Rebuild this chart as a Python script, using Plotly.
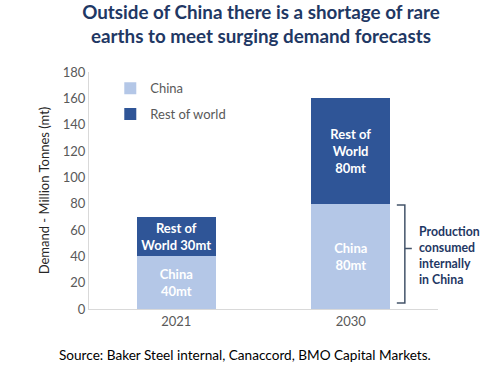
import plotly.graph_objects as go

years = ["2021", "2030"]
china = [40, 80]
rest_of_world = [30, 80]
china_labels = ["China<br>40mt", "China<br>80mt"]
row_labels = ["Rest of<br>World 30mt", "Rest of<br>World<br>80mt"]

FONT = "Lato, 'Open Sans', sans-serif"
NAVY = "#1F3864"

fig = go.Figure()
fig.add_trace(go.Bar(
    x=years, y=china, name="China", legendgroup="a",
    marker=dict(color="#B4C7E7", line=dict(color="#B4C7E7", width=0)),
    text=[f"<b>{t}</b>" for t in china_labels], textposition="inside",
    insidetextanchor="middle", textangle=0,
    textfont=dict(color="white", size=13, family=FONT),
))
fig.add_trace(go.Bar(
    x=years, y=rest_of_world, name="Rest of world", legendgroup="b",
    marker=dict(color="#2F5597", line=dict(color="#2F5597", width=0)),
    text=[f"<b>{t}</b>" for t in row_labels], textposition="inside",
    insidetextanchor="middle", textangle=0,
    textfont=dict(color="white", size=13, family=FONT),
))

fig.update_layout(
    width=486, height=368,
    barmode="stack", bargap=0.547,
    paper_bgcolor="white", plot_bgcolor="white",
    margin=dict(l=89, r=48, t=72, b=59),
    font=dict(family=FONT, size=13, color="#595959"),
    title=dict(
        text="<b>Outside of China there is a shortage of rare<br>earths to meet surging demand forecasts</b>",
        x=0.537, xanchor="center", xref="container",
        y=0.949, yanchor="top", yref="container",
        font=dict(family=FONT, size=18.8, color=NAVY),
    ),
    legend=dict(
        x=0.061, y=0.995, xanchor="left", yanchor="top",
        traceorder="grouped", tracegroupgap=6,
        bgcolor="rgba(0,0,0,0)",
        font=dict(size=13, color="#595959", family=FONT),
    ),
    uniformtext=dict(mode=False),
    xaxis=dict(
        showline=True, linecolor="#D9D9D9", linewidth=1,
        ticks="", showgrid=False,
        tickfont=dict(size=13, color="#595959"),
    ),
    yaxis=dict(
        range=[0, 180], dtick=20, showgrid=False,
        showline=True, linecolor="#D9D9D9", linewidth=1,
        ticks="", zeroline=False,
        tickfont=dict(size=13, color="#595959"),
        title=dict(text="Demand - Million Tonnes (mt)", standoff=10,
                   font=dict(size=13, color="#262626")),
    ),
)

# curly bracket marking China's internal consumption
fig.add_shape(
    type="path", xref="paper", yref="y",
    path="M 0.882 79 L 0.905 79 L 0.905 46 L 0.925 46 M 0.905 46 L 0.905 4.5 L 0.882 4.5",
    line=dict(color="#44546A", width=1.5),
)
fig.add_annotation(
    xref="paper", yref="y", x=0.94, y=41, xanchor="left", yanchor="middle",
    text="<b>Production<br>consumed<br>internally<br>in China</b>",
    showarrow=False, align="left",
    font=dict(family=FONT, size=12.3, color=NAVY),
)
fig.add_annotation(
    xref="paper", yref="paper", x=0.447, y=-0.194, xanchor="center", yanchor="middle",
    text="Source: Baker Steel internal, Canaccord, BMO Capital Markets.",
    showarrow=False,
    font=dict(family=FONT, size=13.6, color="#000000"),
)

fig.write_html("out.html", config={"displayModeBar": False},
               post_script="document.body.style.margin='0';")
